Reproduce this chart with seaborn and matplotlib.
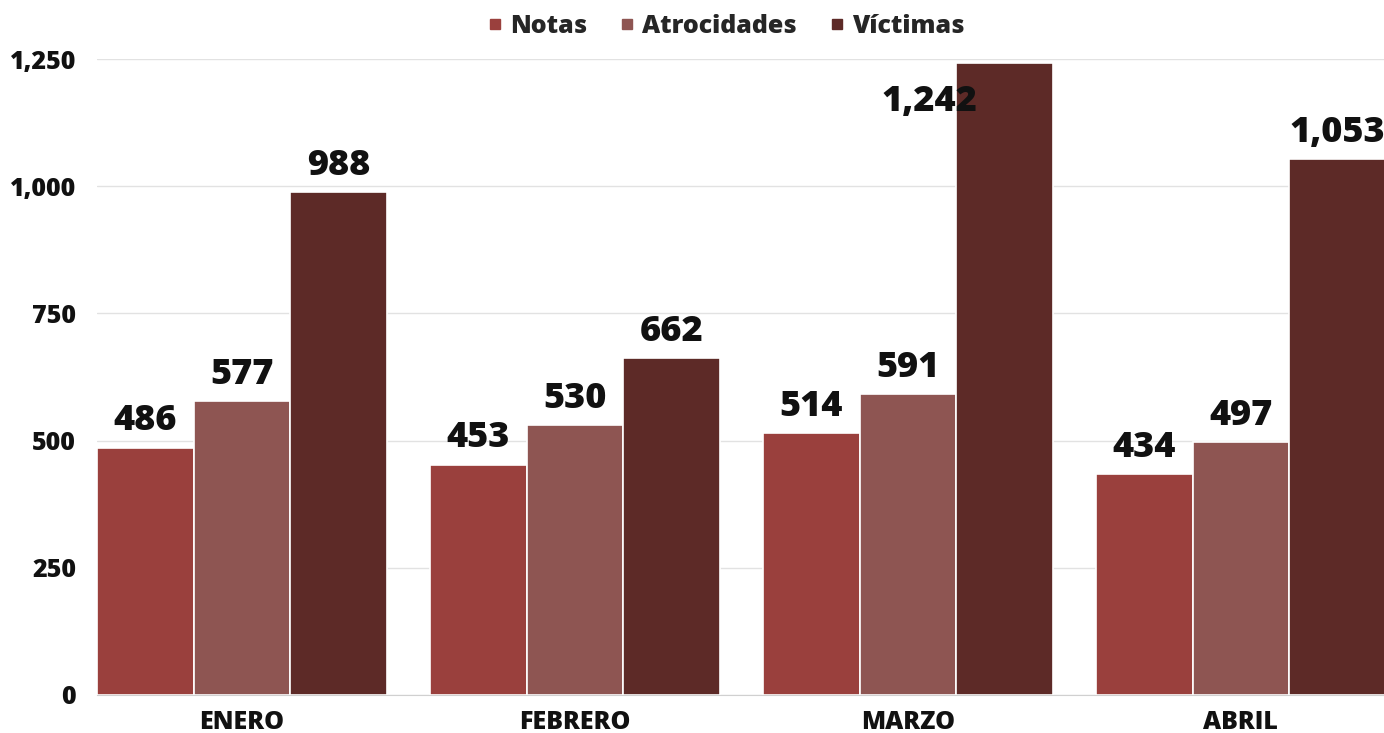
import matplotlib.pyplot as plt
import pandas as pd
import seaborn as sns
from matplotlib.lines import Line2D
from matplotlib.ticker import FuncFormatter

MESES = ["ENERO", "FEBRERO", "MARZO", "ABRIL"]
SERIES = ["Notas", "Atrocidades", "Víctimas"]
NOTAS = [486, 453, 514, 434]
ATROCIDADES = [577, 530, 591, 497]
VICTIMAS = [988, 662, 1242, 1053]
COLORES = ["#9a403d", "#8e5552", "#5d2a27"]
Y_TICKS = [0, 250, 500, 750, 1000, 1250]


def build_df():
    ''' Long-form table: one row per month and series. '''
    rows = []
    for serie, valores in zip(SERIES, [NOTAS, ATROCIDADES, VICTIMAS]):
        for mes, v in zip(MESES, valores):
            rows.append({"mes": mes, "serie": serie, "valor": v})
    return pd.DataFrame(rows)


def plot_bars():
    sns.set_style("white")
    plt.rcParams['font.family'] = ['Open Sans', 'DejaVu Sans']
    weight = 800

    df = build_df()
    fig = plt.figure(figsize=(13.84, 7.33), dpi=100)
    ax = fig.add_axes([97 / 1384, 38 / 733, 1 - 97 / 1384, 636 / 733])

    sns.barplot(data=df, x="mes", y="valor", hue="serie", order=MESES,
                hue_order=SERIES, palette=COLORES, width=0.87, gap=0,
                edgecolor="white", linewidth=1.2, saturation=1, ax=ax)
    ax.get_legend().remove()

    # Value labels above each bar (the tallest one sits to the left, below the top)
    for cont in ax.containers:
        for bar in cont:
            h = bar.get_height()
            x = bar.get_x() + bar.get_width() / 2
            offset = (0, 6)
            va = "bottom"
            if h > 1200:
                offset = (-54, -15)
                va = "top"
            ax.annotate(f"{h:,.0f}", (x, h), xytext=offset,
                        textcoords="offset points", ha="center", va=va,
                        fontsize=26, fontweight=weight, color="#111111",
                        annotation_clip=False)

    ax.set_xlim(-0.435, 3.43)
    ax.set_ylim(0, 1250)
    ax.set_yticks(Y_TICKS)
    ax.yaxis.set_major_formatter(FuncFormatter(lambda v, p: f"{v:,.0f}"))
    ax.grid(axis="y", color="#e2e2e2", linewidth=1)
    ax.set_axisbelow(True)
    for side in ["top", "right", "left"]:
        ax.spines[side].set_visible(False)
    ax.spines["bottom"].set_color("#d0d0d0")
    ax.set_xlabel("")
    ax.set_ylabel("")
    ax.tick_params(axis="y", length=0, labelsize=18, pad=15)
    ax.tick_params(axis="x", length=0, labelsize=18, pad=11)
    for lbl in ax.get_xticklabels() + ax.get_yticklabels():
        lbl.set_fontweight(weight)
        lbl.set_color("#111111")

    handles = [Line2D([], [], marker="s", linestyle="", markersize=7,
                      color=c) for c in COLORES]
    fig.legend(handles, SERIES, loc="upper center", ncol=3,
               bbox_to_anchor=(0.522, 1.012), frameon=False,
               prop={"weight": weight, "size": 18}, handletextpad=0.0,
               handlelength=1.2, columnspacing=1.0)

    fig.savefig("out.png", dpi=100)


if __name__ == '__main__':
    plot_bars()
